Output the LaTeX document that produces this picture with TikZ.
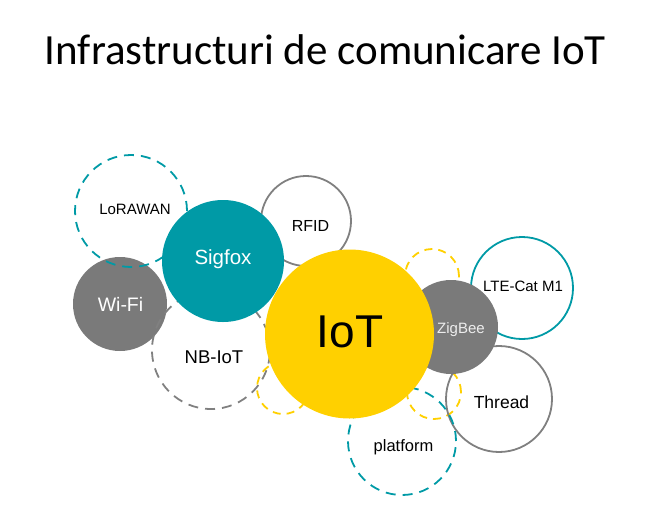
\documentclass[tikz,border=0pt]{standalone}
\usepackage{fontspec}
\setmainfont{Liberation Sans}
\newfontfamily\titlefont{Carlito}
\definecolor{iotteal}{RGB}{0,154,166}
\definecolor{iotgray}{RGB}{122,122,122}
\definecolor{linegray}{RGB}{128,128,128}
\definecolor{iotyellow}{RGB}{255,208,0}
\tikzstyle{bubble} = [circle, inner sep=0pt, outer sep=0pt]
\tikzstyle{disc} = [bubble, draw=none]
\tikzstyle{ring} = [bubble, line width=1.8pt, fill=none]
\tikzstyle{dashring} = [ring, dash pattern=on 10pt off 7pt]
\tikzstyle{dotring} = [ring, draw=iotyellow, dash pattern=on 8pt off 6pt]
\tikzstyle{lbl} = [inner sep=0pt, anchor=base]
\newcommand{\fs}[1]{\fontsize{#1}{#1}\selectfont}

\begin{document}
\begin{tikzpicture}[x=1pt, y=-1pt]
\useasboundingbox (0,0) rectangle (663,517);
\node (title) [lbl, font=\titlefont\fs{43}] at (325.3,64.3) {Infrastructuri de comunicare IoT};
% back layer
\node (wifi) [disc, fill=iotgray, minimum size=94] at (120,304) {};
\node (lorawan) [dashring, draw=iotteal, minimum size=112] at (131,211) {};
\node (rfid) [ring, draw=linegray, minimum size=90] at (306,221) {};
\node (nbiot) [dashring, draw=linegray, minimum size=118] at (211,350) {};
\node (dotl) [dotring, minimum size=52] at (283,388) {};
\node (dottr) [dotring, minimum size=54] at (432,276) {};
\node (dotbr) [dotring, minimum size=54] at (434,392) {};
\node (lte) [ring, draw=iotteal, minimum size=102] at (522,288) {};
\node (thread) [ring, draw=linegray, minimum size=106] at (499,399) {};
\node (platform) [dashring, draw=iotteal, minimum size=108] at (402,441) {};
% front layer
\node (sigfox) [disc, fill=iotteal, minimum size=122] at (223,261) {};
\node (zigbee) [disc, fill=iotgray, minimum size=94] at (451,327) {};
\node (iot) [disc, fill=iotyellow, minimum size=169] at (349.5,334) {};
% labels
\node (t-lorawan) [lbl, font=\fs{15}] at (135,214.4) {LoRAWAN};
\node (t-sigfox) [lbl, font=\fs{20.5}, text=white] at (223,264.8) {Sigfox};
\node (t-rfid) [lbl, font=\fs{16}] at (310.5,231.7) {RFID};
\node (t-wifi) [lbl, font=\fs{19.5}, text=white] at (120.5,311) {Wi-Fi};
\node (t-nbiot) [lbl, font=\fs{18.5}] at (214,363.1) {NB-IoT};
\node (t-iot) [lbl, font=\fs{46}] at (350,347.5) {IoT};
\node (t-zigbee) [lbl, font=\fs{15}, text=white!93!black] at (461,333.4) {ZigBee};
\node (t-lte) [lbl, font=\fs{15}] at (523,291.4) {LTE-Cat M1};
\node (t-thread) [lbl, font=\fs{17.5}] at (501.5,408.3) {Thread};
\node (t-platform) [lbl, font=\fs{16.5}] at (403.5,451) {platform};
\end{tikzpicture}
\end{document}
